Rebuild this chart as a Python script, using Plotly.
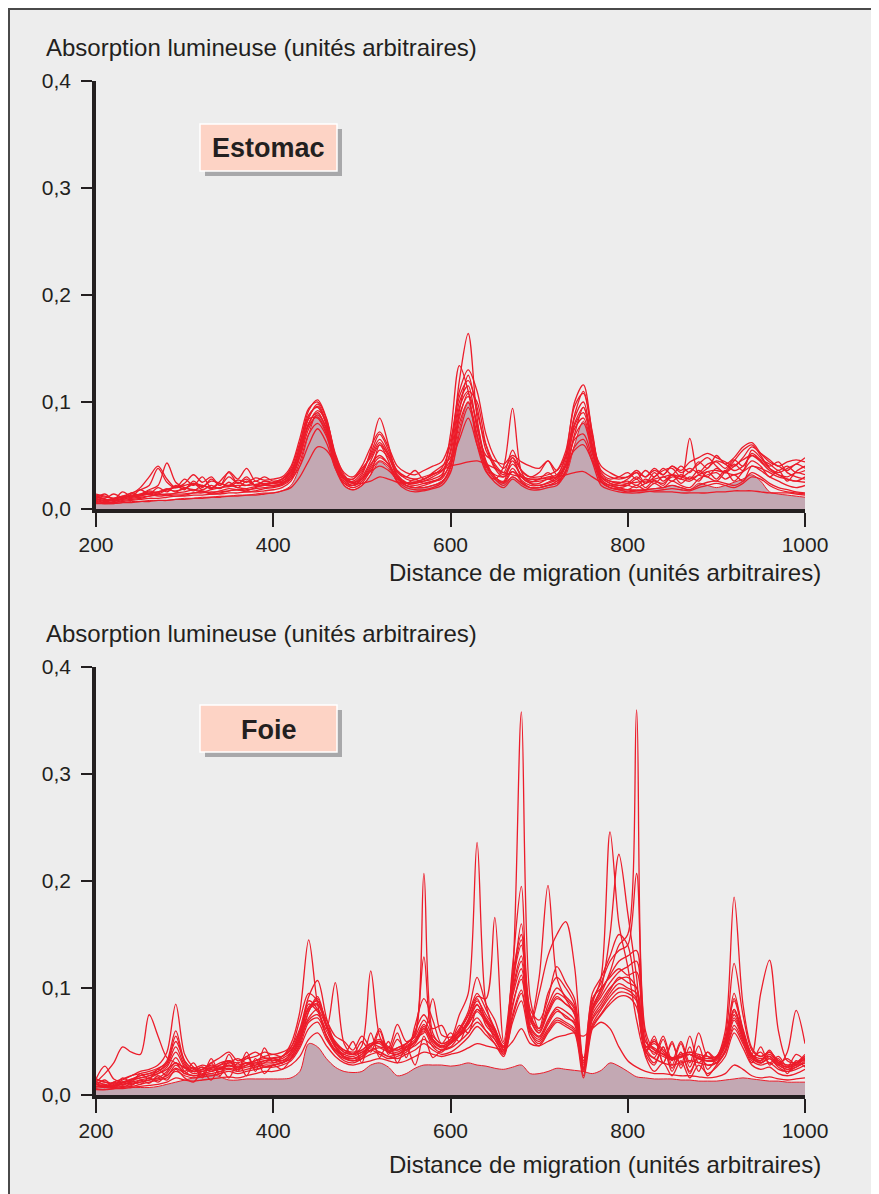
import numpy as np
import plotly.graph_objects as go

# ---------------- data (absorbance in thousandths, x = migration distance) ----------------
X = list(range(200, 1001, 10))

X_TICKS = [200, 400, 600, 800, 1000]
X_TICK_LABELS = ["200", "400", "600", "800", "1000"]
Y_TICKS = [0.0, 0.1, 0.2, 0.3, 0.4]
Y_TICK_LABELS = ["0,0", "0,1", "0,2", "0,3", "0,4"]

Y_TITLE = "Absorption lumineuse (unités arbitraires)"
X_TITLE = "Distance de migration (unités arbitraires)"
PANELS = ["Estomac", "Foie"]

# ---- Estomac ----
EST_FILL = [6,5,5,6,7,7,8,8,8,9, 10,10,11,11,12,12,13,13,14,15,
            15,17,22,40,70,90,75,45,22,18, 22,32,44,38,26,22,20,20,22,26,
            35,75,99,65,38,28,24,30,25,20, 20,22,24,32,60,82,55,26,20,19,
            18,18,18,19,20,22,20,18,24,22, 20,22,25,28,32,26,16,14,13,12, 11]
EST_1 = [12,9,8,10,12,14,15,16,18,17, 19,24,18,22,19,25,20,26,22,23,
         24,26,35,55,85,98,80,45,28,24, 30,45,60,50,32,25,24,26,28,32,
         55,120,164,85,42,30,25,38,27,22, 22,24,28,45,85,100,60,28,22,20,
         22,28,20,27,22,32,24,30,26,35, 28,36,26,35,45,40,30,36,26,35, 40]
EST_2 = [8,6,7,9,11,12,14,12,13,15, 16,18,17,15,17,19,18,17,20,22,
         22,24,32,60,92,102,85,50,30,25, 32,55,85,60,30,22,20,22,25,30,
         70,134,110,60,35,28,40,94,35,24, 22,25,30,50,100,116,70,30,24,22,
         24,30,24,34,26,32,28,66,32,30, 26,35,45,55,60,50,38,32,28,26, 30]
EST_3 = [14,12,10,12,15,18,22,38,25,20, 28,22,30,20,26,34,24,30,22,26,
         25,28,38,62,88,95,78,42,28,26, 34,52,70,55,35,28,26,28,32,38,
         60,105,120,95,55,40,32,45,30,25, 28,30,32,48,88,110,72,32,26,24,
         28,34,24,30,36,38,30,35,42,48, 40,34,42,36,55,48,40,44,34,30, 28]
EST_4 = [10,8,9,11,13,14,18,22,43,25, 20,18,16,18,20,22,20,19,21,22,
         22,24,30,50,80,92,82,52,32,25, 28,40,55,48,30,24,22,24,26,28,
         45,95,110,100,60,38,30,42,32,26, 26,28,30,42,78,90,58,30,24,22,
         22,20,24,26,24,30,28,26,32,38, 45,42,36,40,50,45,38,34,38,42, 48]
EST_5 = [6,5,6,8,9,10,12,14,13,12, 13,15,16,14,15,17,18,16,17,19,
         20,22,28,48,75,88,76,48,28,22, 28,42,50,42,28,22,20,20,22,25,
         40,88,105,80,45,30,24,35,26,20, 20,22,26,40,75,85,55,26,20,18,
         18,22,18,24,20,26,22,20,28,32, 34,28,32,26,40,36,30,26,22,20, 22]
EST_6 = [9,7,8,10,14,20,30,40,28,20, 24,32,25,30,22,35,28,38,26,30,
         26,28,34,56,84,85,70,44,30,28, 36,50,65,52,36,30,28,30,33,36,
         52,100,115,75,50,45,42,50,44,40, 38,45,36,50,80,95,60,40,34,30,
         30,36,30,38,32,40,34,38,34,42, 44,38,46,40,52,46,42,36,40,34, 36]
EST_7 = [11,9,8,9,10,11,12,13,14,14, 14,15,15,16,16,17,18,18,19,20,
         21,23,30,52,80,90,74,40,24,20, 24,36,45,40,26,20,18,18,20,24,
         38,80,100,70,40,28,22,30,24,20, 20,22,24,36,65,70,48,25,20,18,
         16,17,18,19,20,22,20,18,22,25, 26,24,22,26,34,30,24,20,18,16, 15]
EST_8 = [7,6,6,7,8,9,10,10,11,12, 12,13,13,14,14,15,15,16,16,17,
         18,20,26,44,70,80,68,38,22,18, 22,32,60,45,25,18,16,17,19,22,
         34,70,95,68,36,25,20,28,22,18, 18,20,22,34,58,65,44,22,18,16,
         15,15,16,17,18,19,18,17,20,22, 24,22,20,24,30,28,22,18,16,15, 14]
EST_9 = [13,11,10,11,12,13,14,16,18,20, 22,24,22,20,20,21,22,22,23,24,
         24,25,28,40,60,75,62,38,24,22, 28,35,40,36,28,24,24,26,30,35,
         45,65,85,60,40,32,30,35,30,28, 28,34,28,40,55,60,45,30,26,25,
         24,25,26,28,30,32,30,28,32,35, 36,34,32,35,40,38,34,30,28,26, 25]
EST_10 = [5,5,5,6,6,7,7,8,8,9, 9,10,10,11,11,12,12,13,13,14,
          15,17,20,30,45,58,55,42,30,24, 24,26,30,28,25,24,25,28,32,36,
          40,42,44,45,42,38,34,32,30,28, 28,29,30,32,34,35,30,25,22,20,
          18,17,17,16,16,16,15,15,15,15, 16,16,17,17,17,16,15,15,15,14, 13]
EST_11 = [10,14,9,16,12,18,14,20,16,22, 18,26,20,28,22,30,24,28,22,26,
          24,28,36,58,86,96,80,46,30,28, 38,48,62,50,34,30,36,28,34,40,
          48,92,125,90,60,42,34,55,36,30, 34,45,32,40,70,95,65,34,28,30,
          34,28,36,30,38,32,40,34,44,38, 50,42,48,58,62,52,44,40,36,42, 38]
EST_12 = [12,10,14,11,15,13,17,15,19,16, 20,17,22,19,24,21,25,22,26,23,
          24,26,32,52,78,86,72,42,26,22, 26,38,48,42,30,24,28,24,26,30,
          42,85,108,78,44,30,26,48,30,24, 24,28,26,36,68,80,52,28,22,24,
          26,22,28,24,30,26,32,28,36,30, 38,34,40,46,50,44,36,32,30,34, 32]
EST_13 = [9,8,10,12,11,13,16,14,18,21, 19,23,21,26,24,22,27,25,29,27,
          28,30,40,66,94,100,84,50,34,30, 40,58,72,58,40,34,32,36,40,44,
          64,110,130,110,70,48,38,48,36,30, 30,32,36,54,96,108,68,36,30,28,
          30,34,30,36,32,40,36,44,48,52, 48,44,40,48,58,52,46,40,44,46, 44]
EST_TRACES = [EST_1, EST_2, EST_3, EST_4, EST_5, EST_6, EST_7,
              EST_8, EST_9, EST_10, EST_11, EST_12, EST_13]

# ---- Foie ----
FOIE_FILL = [8,7,7,8,7,7,7,8,10,12, 14,16,18,20,17,14,14,15,15,15,
             15,15,16,22,48,45,34,26,22,21, 22,28,30,26,18,20,25,28,28,28,
             27,28,30,28,27,25,24,26,28,20, 20,22,25,24,23,22,20,23,30,27,
             22,17,16,15,15,15,14,14,13,13, 13,14,15,16,15,14,13,13,12,12, 12]
FOIE_1 = [15,12,10,14,18,22,24,28,40,85, 38,26,22,26,24,28,26,30,24,26,
          28,30,36,50,88,80,55,40,32,30, 34,42,38,34,36,40,48,60,45,40,
          50,58,70,90,70,60,42,110,358,90, 62,95,110,100,85,25,95,110,130,150,
          140,90,45,50,42,35,38,40,38,36, 35,50,95,60,38,32,40,30,26,30, 38]
FOIE_2 = [12,20,30,45,40,38,75,55,35,30, 26,22,26,22,25,28,24,28,30,26,
          28,30,34,48,78,92,65,45,35,32, 36,44,40,36,38,42,50,62,48,42,
          48,60,75,95,80,62,45,120,195,80, 70,90,120,105,90,30,85,110,246,160,
          120,70,40,52,30,48,28,55,30,40, 34,48,80,55,36,30,36,28,24,28, 34]
FOIE_3 = [15,27,15,12,14,18,20,22,30,50, 32,24,26,22,28,32,26,30,28,32,
          34,32,38,52,82,85,65,45,36,34, 38,46,50,40,44,48,56,207,58,48,
          52,62,78,110,85,70,48,100,160,75, 60,80,95,90,80,28,82,100,150,225,
          170,110,45,48,40,34,36,38,34,32, 32,45,75,55,36,30,34,26,22,26, 30]
FOIE_4 = [10,8,12,15,18,20,22,25,30,55, 30,22,24,28,26,30,34,30,32,36,
          38,36,48,78,145,85,55,42,36,34, 38,46,48,40,38,44,50,64,52,46,
          50,56,70,88,75,62,44,112,150,70, 58,78,92,85,78,22,80,95,115,140,
          150,360,60,42,38,34,36,38,34,32, 34,50,90,62,38,32,38,30,26,28, 34]
FOIE_5 = [12,10,8,12,15,18,20,24,32,60, 32,25,28,26,30,32,30,34,36,40,
          38,40,45,62,92,107,72,48,40,38, 42,48,52,45,42,48,55,70,55,48,
          52,75,95,236,85,60,46,105,140,75, 62,84,100,92,82,26,88,105,125,135,
          140,207,55,38,55,32,50,30,58,36, 36,55,123,75,42,36,40,32,28,30, 36]
FOIE_6 = [8,7,9,11,14,16,18,22,28,45, 28,22,24,25,28,30,28,30,32,34,
          35,36,42,58,85,78,62,105,48,38, 40,46,50,44,42,46,52,66,52,46,
          50,60,74,92,90,166,50,108,145,72, 58,76,90,85,76,24,80,98,112,125,
          130,135,50,44,38,34,36,40,36,34, 36,60,185,85,44,36,40,32,28,30, 36]
FOIE_7 = [10,9,8,10,12,14,16,20,26,40, 26,20,22,24,25,27,26,28,30,32,
          32,34,40,56,82,88,66,48,40,38, 46,116,55,42,40,45,50,62,50,44,
          48,56,68,84,72,60,44,98,130,68, 110,196,110,90,75,25,78,92,105,115,
          120,125,50,42,38,34,36,38,34,32, 34,50,88,60,38,34,36,28,24,26, 32]
FOIE_8 = [8,8,9,10,11,12,14,16,22,35, 22,18,20,22,24,25,24,26,28,30,
          30,32,38,54,78,90,64,46,38,36, 40,46,50,42,44,48,58,129,52,45,
          48,55,66,80,70,58,42,92,118,66, 95,130,150,162,120,32,90,100,110,118,
          112,115,46,40,36,33,35,38,34,32, 34,46,78,58,38,95,126,60,32,30, 34]
FOIE_9 = [14,12,11,12,14,16,18,20,24,30, 25,22,24,30,35,40,32,36,40,35,
          34,36,42,52,72,80,64,50,42,40, 42,48,45,44,66,50,54,58,90,56,
          54,58,66,78,68,56,42,85,108,64, 55,70,82,78,70,18,75,88,100,108,
          110,100,42,30,45,25,40,22,35,28, 30,42,70,52,34,30,34,28,40,79, 48]
FOIE_10 = [6,5,6,7,8,10,12,14,16,22, 18,16,17,18,20,22,20,22,24,26,
           26,28,32,44,62,68,52,40,34,32, 34,38,40,36,34,38,42,48,42,38,
           40,46,54,64,56,48,38,68,88,54, 46,58,68,64,58,16,62,75,85,92,
           92,82,36,22,30,18,32,16,28,20, 26,36,58,44,28,24,26,20,18,20, 24]
FOIE_11 = [5,5,6,6,7,8,9,10,12,16, 14,13,14,15,16,17,16,18,20,22,
           22,24,28,36,52,58,46,36,30,28, 30,32,34,32,30,32,36,40,38,36,
           38,40,44,48,46,44,42,50,62,48, 46,50,54,56,58,55,62,68,62,45,
           32,26,22,20,20,19,18,18,17,16, 17,20,28,24,18,16,17,15,14,15, 16]
FOIE_12 = [10,8,7,8,10,12,14,15,18,25, 20,18,19,20,22,24,22,24,26,28,
           28,30,34,46,68,72,56,42,36,34, 36,42,44,40,38,42,46,52,46,42,
           44,50,58,68,60,52,40,75,98,58, 50,62,72,68,62,35,66,80,92,100,
           98,90,40,34,30,28,30,32,30,28, 30,40,62,48,32,28,30,24,22,24, 28]
FOIE_13 = [9,14,8,16,12,20,15,24,18,28, 22,30,18,34,20,38,24,40,22,44,
           30,36,44,70,95,88,70,55,50,42, 55,45,62,40,58,35,65,90,70,48,
           58,50,70,85,65,55,38,95,125,60, 52,66,78,74,66,24,70,82,95,104,
           100,95,40,55,30,50,25,45,22,40, 30,52,80,58,36,40,30,36,26,38, 32]
FOIE_14 = [7,10,6,12,9,14,11,18,14,24, 16,12,22,14,26,16,30,18,34,20,
           28,24,34,52,70,75,60,45,38,50, 30,58,35,50,30,45,28,55,35,42,
           45,55,62,72,60,48,36,72,95,58, 48,60,70,66,60,22,64,76,88,96,
           95,88,38,28,45,22,40,20,38,18, 28,40,65,50,30,45,28,34,20,32, 26]
FOIE_15 = [11,7,12,9,13,10,16,12,20,30, 20,26,16,30,18,32,22,36,26,30,
           34,30,40,60,80,84,66,48,42,38, 50,40,60,38,52,42,60,75,62,65,
           50,65,58,80,70,52,40,82,112,62, 54,68,80,72,68,30,72,85,98,110,
           105,100,44,35,52,28,48,26,46,24, 34,46,72,54,34,32,42,30,34,28, 30]
FOIE_TRACES = [FOIE_1, FOIE_2, FOIE_3, FOIE_4, FOIE_5, FOIE_6, FOIE_7, FOIE_8,
               FOIE_9, FOIE_10, FOIE_11, FOIE_12, FOIE_13, FOIE_14, FOIE_15]

# ---------------- styling / layout ----------------
OFF = 8                       # page body margin: figure starts at (8, 8)
W, H = 879 - OFF, 1194 - OFF
ML, MR, MT, MB = 96 - OFF, 74, 81 - OFF, 99
PW, PH = W - ML - MR, H - MT - MB
BG = "#ededed"
INK = "#231f20"
RED = "#ec1c2a"
MAUVE = "#c3a8b3"
FONT = "Liberation Sans"


def px_x(px):
    """screen x pixel -> paper coordinate"""
    return (px - OFF - ML) / PW


def px_y(py):
    """screen y pixel -> paper coordinate"""
    return (H - MB - (py - OFF)) / PH


fig = go.Figure()

panels = [
    ("x", "y", EST_FILL, EST_TRACES),
    ("x2", "y2", FOIE_FILL, FOIE_TRACES),
]
for xa, ya, fill, traces in panels:
    fig.add_trace(go.Scatter(
        x=X, y=np.array(fill) / 1000.0, xaxis=xa, yaxis=ya, mode="lines",
        line=dict(color=RED, width=1, shape="spline", smoothing=0.9),
        fill="tozeroy", fillcolor=MAUVE, hoverinfo="skip", showlegend=False))
    for tr in traces:
        fig.add_trace(go.Scatter(
            x=X, y=np.array(tr) / 1000.0, xaxis=xa, yaxis=ya, mode="lines",
            line=dict(color=RED, width=1.3, shape="spline", smoothing=0.9),
            hoverinfo="skip", showlegend=False))

top_dom = [px_y(509), 1.0]
bot_dom = [0.0, px_y(667)]

axis_common = dict(showgrid=False, zeroline=False, showline=True,
                   linecolor=INK, linewidth=3.5, ticks="outside",
                   tickcolor=INK, tickwidth=2,
                   tickfont=dict(family=FONT, size=21, color=INK))
xcommon = dict(axis_common, range=[200, 1000], tickvals=X_TICKS,
               ticktext=X_TICK_LABELS, ticklen=14)
ycommon = dict(axis_common, range=[0, 0.4], tickvals=Y_TICKS,
               ticktext=Y_TICK_LABELS, ticklen=11, ticklabelstandoff=6)

fig.update_layout(
    width=W, height=H,
    margin=dict(l=ML, r=MR, t=MT, b=MB, pad=0),
    paper_bgcolor=BG, plot_bgcolor=BG,
    showlegend=False,
    xaxis=dict(xcommon, domain=[0, 1], anchor="y"),
    yaxis=dict(ycommon, domain=top_dom, anchor="x"),
    xaxis2=dict(xcommon, domain=[0, 1], anchor="y2"),
    yaxis2=dict(ycommon, domain=bot_dom, anchor="x2"),
)

shapes = []
annots = []
# dark frame along the top and left edges of the figure
shapes.append(dict(type="line", xref="paper", yref="paper",
                   x0=px_x(8), x1=px_x(900), y0=px_y(9), y1=px_y(9),
                   line=dict(color="#4a4a4a", width=2), layer="above"))
shapes.append(dict(type="line", xref="paper", yref="paper",
                   x0=px_x(9), x1=px_x(9), y0=px_y(8), y1=px_y(1220),
                   line=dict(color="#4a4a4a", width=2), layer="above"))

title_rows = [(47, 572), (633, 1164)]
box_rows = [(124, 171), (705, 752)]
for (ty, xy), (b0, b1), name in zip(title_rows, box_rows, PANELS):
    annots.append(dict(text=Y_TITLE, xref="paper", yref="paper",
                       x=px_x(44), y=px_y(ty), xanchor="left", yanchor="middle",
                       showarrow=False,
                       font=dict(family=FONT, size=24, color=INK)))
    annots.append(dict(text=X_TITLE, xref="paper", yref="paper",
                       x=px_x(823), y=px_y(xy), xanchor="right", yanchor="middle",
                       showarrow=False,
                       font=dict(family=FONT, size=24, color=INK)))
    # label box with shadow
    shapes.append(dict(type="rect", xref="paper", yref="paper",
                       x0=px_x(205), x1=px_x(342), y0=px_y(b1 + 5), y1=px_y(b0 + 5),
                       fillcolor="#a8a8aa", line=dict(width=0), layer="above"))
    shapes.append(dict(type="rect", xref="paper", yref="paper",
                       x0=px_x(200), x1=px_x(337), y0=px_y(b1), y1=px_y(b0),
                       fillcolor="#fdd3c5", line=dict(color="white", width=1.5),
                       layer="above"))
    annots.append(dict(text="<b>%s</b>" % name, xref="paper", yref="paper",
                       x=px_x(268.5), y=px_y((b0 + b1) / 2 + 1),
                       xanchor="center", yanchor="middle", showarrow=False,
                       font=dict(family=FONT, size=27, color=INK)))

fig.update_layout(shapes=shapes, annotations=annots)
fig.write_html("out.html")
